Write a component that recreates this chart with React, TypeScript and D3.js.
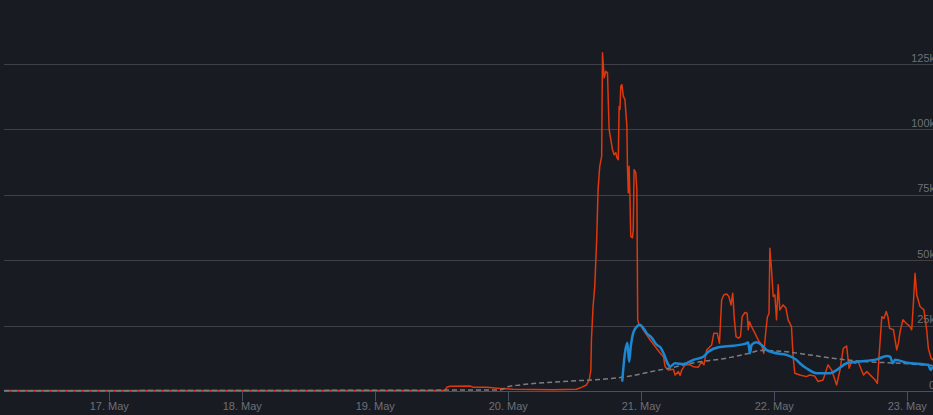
import React from "react";
import * as d3 from "d3";

// Hours since 16 May 00:00 UTC
const BASE = Date.UTC(2021, 4, 16);

const redHours = [5.0, 84.6, 84.9, 85.5, 89.1, 89.7, 92.1, 94.5, 96.9, 104.1, 108.3, 109.2, 110.1, 110.6, 110.9, 111.0, 111.3, 111.6, 111.95, 112.2, 112.5, 112.85, 113.0, 113.3, 113.6, 113.9, 114.05, 114.2, 114.5, 114.8, 115.1, 115.4, 115.6, 115.85, 116.0, 116.15, 116.3, 116.5, 116.75, 117.05, 117.4, 117.5, 117.65, 117.8, 117.95, 118.1, 118.4, 118.55, 118.7, 119.0, 119.2, 119.35, 119.6, 119.9, 120.35, 121.0, 121.6, 122.5, 123.4, 124.0, 124.3, 124.9, 125.8, 126.1, 126.7, 127.0, 127.3, 127.9, 128.8, 129.4, 130.3, 130.9, 131.3, 131.8, 132.7, 133.1, 133.7, 134.1, 134.5, 134.9, 135.4, 135.8, 136.2, 136.5, 136.8, 137.1, 137.5, 137.9, 138.2, 138.7, 139.1, 139.3, 139.5, 139.9, 140.5, 141.1, 141.7, 142.1, 142.5, 142.75, 143.05, 143.2, 143.5, 143.8, 144.1, 144.4, 144.7, 145.0, 145.6, 146.1, 146.5, 147.1, 147.4, 147.7, 148.6, 149.8, 150.4, 151.3, 151.9, 152.8, 153.7, 154.35, 154.95, 155.25, 155.85, 156.45, 157.05, 157.5, 157.95, 158.55, 159.15, 159.5, 160.1, 160.7, 161.6, 162.2, 162.6, 162.9, 163.4, 163.8, 164.2, 164.5, 164.8, 165.5, 166.1, 166.4, 166.7, 167.2, 167.8, 168.5, 168.8, 169.1, 169.4, 169.7, 170.3, 171.0, 171.5, 171.8, 172.3, 172.65, 173.2];
const redValues = [200, 250, 1400, 1800, 1900, 1400, 1400, 1000, 650, 500, 650, 1400, 2300, 4200, 8000, 19500, 32300, 39900, 57800, 76900, 85900, 89700, 129300, 119700, 122200, 121600, 110200, 99900, 96100, 92300, 90300, 91100, 89200, 88400, 108800, 107600, 116500, 117100, 112700, 111400, 101200, 85900, 75800, 85900, 74400, 59100, 58600, 61600, 84600, 83500, 76900, 27200, 25300, 24900, 23400, 21400, 19500, 17000, 14500, 13100, 9300, 8000, 8300, 6100, 7400, 5900, 8000, 10000, 10000, 9300, 9100, 11200, 10000, 15700, 17600, 22100, 22100, 18300, 34800, 36800, 37100, 36100, 32900, 37400, 27200, 20800, 20200, 20800, 28400, 30000, 29700, 23400, 26500, 24600, 22100, 19500, 17600, 14400, 23400, 28200, 29700, 54600, 46300, 36100, 36800, 27200, 40600, 31000, 32900, 31700, 27200, 24600, 13100, 6800, 6100, 5500, 6100, 5700, 3600, 4200, 10000, 8000, 4200, 2300, 8000, 16300, 17200, 8700, 11200, 10600, 11200, 9300, 6100, 7400, 5500, 4200, 2900, 13100, 28400, 27800, 30400, 28400, 24000, 23400, 15700, 18300, 22700, 27200, 25900, 24600, 23400, 33600, 45000, 36800, 32300, 31000, 23400, 16300, 12500, 11900, 11000];

const blueHours = [116.55, 117.05, 117.5, 117.8, 118.1, 118.55, 119.2, 119.75, 120.35, 120.95, 121.9, 122.8, 123.4, 124.0, 124.9, 125.2, 126.1, 127.6, 129.4, 131.2, 132.1, 133.9, 136.6, 138.7, 139.3, 139.6, 139.9, 140.8, 141.7, 142.6, 143.8, 146.2, 148.0, 148.6, 149.8, 151.65, 154.05, 155.25, 157.05, 158.9, 162.5, 164.3, 164.9, 165.4, 165.8, 167.9, 170.9, 171.8, 172.2, 172.65, 173.2];
const blueValues = [3600, 14500, 18400, 11200, 17000, 22200, 24600, 25300, 24100, 22200, 20300, 17600, 16800, 14500, 10000, 9300, 10600, 10300, 11900, 13100, 15000, 16700, 17300, 18000, 18500, 14400, 17600, 18600, 17600, 15700, 14700, 13800, 11900, 10600, 8700, 6800, 6800, 8000, 10600, 11200, 12100, 13400, 13100, 10600, 11900, 10800, 10200, 10000, 8000, 9300, 9300];

const trendHours = [5.0, 94.5, 95.9, 98.1, 104.1, 107.1, 112.5, 118.0, 121.6, 125.2, 129.3, 135.45, 139.6, 141.4, 144.5, 150.4, 154.6, 160.7, 166.7, 172.1, 173.2];
const trendValues = [100, 400, 1600, 2300, 3400, 3800, 4400, 5700, 7300, 8800, 10700, 12600, 14500, 15500, 15300, 13800, 12500, 11200, 10600, 9800, 9700];

const yTicks = [0, 25000, 50000, 75000, 100000, 125000];
const yTickLabels = ["0", "25k", "50k", "75k", "100k", "125k"];

const W = 933;
const H = 415;
const LEFT = 4;
const BOTTOM = 391;
const TOP = 64;
const START_H = 5.0;
const END_H = 180;

const toDate = (h: number) => new Date(BASE + h * 3600 * 1000);

export default function App() {
  const x = d3
    .scaleUtc()
    .domain([toDate(START_H), toDate(END_H)])
    .range([LEFT, LEFT + ((END_H - START_H) / 24) * 133]);
  const y = d3.scaleLinear().domain([0, 125000]).range([BOTTOM, TOP]);

  const mk = (hs: number[], vs: number[]) => hs.map((h, i) => [toDate(h), vs[i]] as [Date, number]);

  const lineLin = d3
    .line<[Date, number]>()
    .x((d) => x(d[0]))
    .y((d) => y(d[1]));
  const lineSmooth = d3
    .line<[Date, number]>()
    .x((d) => x(d[0]))
    .y((d) => y(d[1]))
    .curve(d3.curveMonotoneX);

  const xTicks = x.ticks(d3.utcDay.every(1)!);
  const fmt = d3.utcFormat("%-d. %b");

  const font = "'Liberation Sans', Arial, sans-serif";
  const labelColor = "#6d7077";

  return (
    <svg
      width={W}
      height={H}
      style={{ position: "absolute", left: 0, top: 0, display: "block" }}
    >
      <rect x={0} y={0} width={W} height={H} fill="#191b22" />
      <defs>
        <clipPath id="plot">
          <rect x={LEFT} y={0} width={W - LEFT} height={BOTTOM + 1} />
        </clipPath>
      </defs>
      {yTicks.slice(1).map((t) => (
        <line key={t} x1={LEFT} x2={W} y1={Math.round(y(t)) + 0.5} y2={Math.round(y(t)) + 0.5} stroke="#3f4146" strokeWidth={1} />
      ))}
      <line x1={LEFT} x2={W} y1={BOTTOM + 0.5} y2={BOTTOM + 0.5} stroke="#485163" strokeWidth={1} />
      {xTicks.map((t) => (
        <g key={+t}>
          <line x1={Math.round(x(t)) + 0.5} x2={Math.round(x(t)) + 0.5} y1={BOTTOM} y2={BOTTOM + 10} stroke="#485163" strokeWidth={1} />
          <text x={x(t)} y={410} textAnchor="middle" fontFamily={font} fontSize={11} fill={labelColor}>
            {fmt(t)}
          </text>
        </g>
      ))}
      {yTicks.map((t, i) => (
        <text key={t} x={935} y={y(t) - 2.5} textAnchor="end" fontFamily={font} fontSize={11} fill={labelColor}>
          {yTickLabels[i]}
        </text>
      ))}
      <g clipPath="url(#plot)">
        <path d={lineLin(mk(redHours, redValues)) || ""} fill="none" stroke="#de380b" strokeWidth={1.5} strokeLinejoin="round" />
        <path d={lineSmooth(mk(trendHours, trendValues)) || ""} fill="none" stroke="#7c7c80" strokeWidth={1.5} strokeDasharray="5,3" />
        <path d={lineSmooth(mk(blueHours, blueValues)) || ""} fill="none" stroke="#1b87d2" strokeWidth={2.5} strokeLinejoin="round" />
      </g>
    </svg>
  );
}
